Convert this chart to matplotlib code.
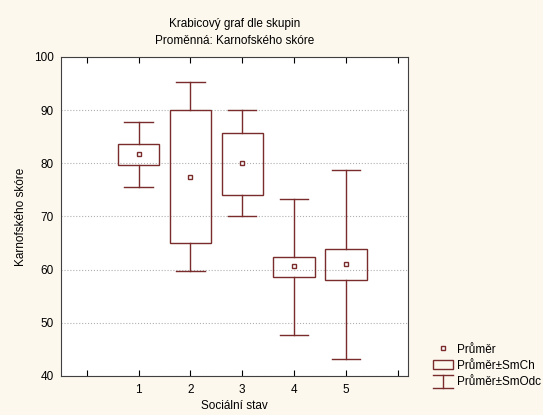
import matplotlib.pyplot as plt
from matplotlib.lines import Line2D
from matplotlib.patches import Rectangle
from matplotlib.legend_handler import HandlerBase

# Data (Karnofského skóre by Sociální stav)
groups = [1, 2, 3, 4, 5]
means = [81.8, 77.5, 80.1, 60.6, 61.1]
box_low = [79.6, 65.0, 74.1, 58.6, 58.1]
box_high = [83.6, 90.0, 85.7, 62.3, 63.8]
whisk_low = [75.6, 59.8, 70.0, 47.7, 43.2]
whisk_high = [87.8, 95.2, 90.0, 73.2, 78.8]

col = "#7a2b2b"
bg = "#fcf8ee"
plt.rcParams["font.family"] = ["Liberation Sans", "DejaVu Sans"]


class WhiskerHandler(HandlerBase):
    def create_artists(self, legend, orig_handle, xd, yd, width, height, fontsize, trans):
        cx = xd + width / 2
        y0, y1 = yd - 2, yd + height + 1
        lines = [
            Line2D([xd, xd + width], [y1, y1], color=col, lw=1),
            Line2D([cx, cx], [y0, y1], color=col, lw=1),
            Line2D([xd, xd + width], [y0, y0], color=col, lw=1),
        ]
        for l in lines:
            l.set_transform(trans)
        return lines


fig = plt.figure(figsize=(5.43, 4.15), dpi=100, facecolor=bg)
ax = fig.add_axes([0.1123, 0.094, 0.639, 0.769])
ax.set_facecolor("white")

bw = 0.8
cw = 0.55
for g, m, bl, bh, wl, wh in zip(groups, means, box_low, box_high, whisk_low, whisk_high):
    ax.plot([g, g], [bh, wh], color=col, lw=1, zorder=3)
    ax.plot([g, g], [wl, bl], color=col, lw=1, zorder=3)
    ax.plot([g - cw / 2, g + cw / 2], [wh, wh], color=col, lw=1, zorder=3)
    ax.plot([g - cw / 2, g + cw / 2], [wl, wl], color=col, lw=1, zorder=3)
    ax.add_patch(Rectangle((g - bw / 2, bl), bw, bh - bl, fill=False,
                           edgecolor=col, lw=1, zorder=3))
ax.plot(groups, means, ls="none", marker="s", ms=3.5, mfc="white", mec=col,
        mew=1, zorder=4)

ax.set_xlim(-0.5, 6.2)
ax.set_ylim(40, 100)
ax.set_xticks([0, 1, 2, 3, 4, 5, 6])
ax.set_xticklabels(["", "1", "2", "3", "4", "5", ""])
ax.set_yticks([40, 50, 60, 70, 80, 90, 100])
ax.tick_params(axis="x", direction="in", top=True, length=4, labelsize=8.5, pad=6)
ax.tick_params(axis="y", length=0, labelsize=8.5, pad=5)
ax.yaxis.grid(True, ls=":", color="#b0b0b0", lw=0.8)
for s in ax.spines.values():
    s.set_color("#404040")
    s.set_linewidth(0.8)

ax.set_xlabel("Sociální stav", fontsize=8.5, labelpad=3)
ax.set_ylabel("Karnofského skóre", fontsize=8.5, labelpad=5)
ax.set_title("Krabicový graf dle skupin\nProměnná: Karnofského skóre",
             fontsize=8.5, pad=9, linespacing=1.6)

h_mean = Line2D([], [], ls="none", marker="s", ms=3.5, mfc="white", mec=col, mew=1)
h_box = Rectangle((0, 0), 1, 1, fill=False, edgecolor=col, lw=1)
h_wh = Line2D([], [])
fig.legend([h_mean, h_box, h_wh], ["Průměr", "Průměr±SmCh", "Průměr±SmOdc"],
           handler_map={h_wh: WhiskerHandler()},
           loc="lower left", bbox_to_anchor=(0.778, 0.04), frameon=False,
           fontsize=8.5, handlelength=1.7, handletextpad=0.35, labelspacing=0.35)

fig.savefig("out.png", dpi=100, facecolor=bg)
